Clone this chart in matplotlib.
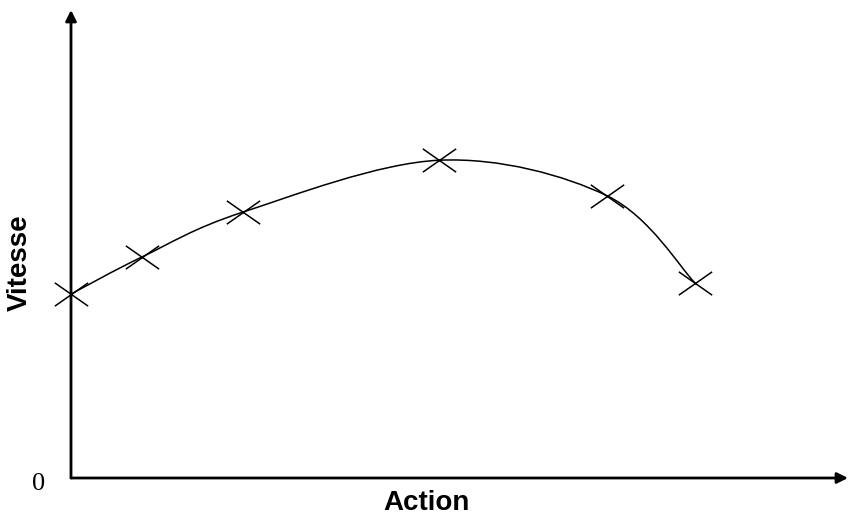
import matplotlib
matplotlib.use('Agg')
import matplotlib.pyplot as plt
from matplotlib.path import Path
from matplotlib.patches import PathPatch

# values (arbitrary units, 0..10 on both axes)
action = [0.0, 0.91, 2.21, 4.74, 6.90, 8.03]
vitesse = [3.93, 4.72, 5.68, 6.79, 6.03, 4.17]

FIG_W, FIG_H = 849, 516
X0, Y0 = 71, 478     # origin, pixels
X1, Y1 = 848, 10     # arrow tips, pixels

# the crosses in the reference are wider than tall
CROSS = Path([(-1, -0.7), (1, 0.7), (-1, 0.7), (1, -0.7)],
             [Path.MOVETO, Path.LINETO, Path.MOVETO, Path.LINETO])


def smooth_path(xs, ys):
    """Catmull-Rom through the points, as cubic Bezier segments."""
    pts = list(zip(xs, ys))
    verts = [pts[0]]
    codes = [Path.MOVETO]
    n = len(pts)
    for i in range(n - 1):
        p0 = pts[i - 1] if i > 0 else pts[i]
        p1 = pts[i]
        p2 = pts[i + 1]
        p3 = pts[i + 2] if i + 2 < n else pts[i + 1]
        c1 = (p1[0] + (p2[0] - p0[0]) / 6, p1[1] + (p2[1] - p0[1]) / 6)
        c2 = (p2[0] - (p3[0] - p1[0]) / 6, p2[1] - (p3[1] - p1[1]) / 6)
        verts += [c1, c2, p2]
        codes += [Path.CURVE4] * 3
    return Path(verts, codes)


fig = plt.figure(figsize=(FIG_W / 100, FIG_H / 100), dpi=100)
ax = fig.add_axes([X0 / FIG_W, (FIG_H - Y0) / FIG_H,
                   (X1 - X0) / FIG_W, (Y0 - Y1) / FIG_H])
ax.set_xlim(0, 10)
ax.set_ylim(0, 10)
for s in ax.spines.values():
    s.set_visible(False)
ax.set_xticks([])
ax.set_yticks([])

ax.add_patch(PathPatch(smooth_path(action, vitesse), fill=False,
                       edgecolor='black', lw=1.1, clip_on=False))
ax.plot(action, vitesse, linestyle='none', marker=CROSS, markersize=24,
        markeredgewidth=1.1, color='black', clip_on=False)

arrow = dict(arrowstyle='-|>', color='black', lw=2.0, mutation_scale=16,
             shrinkA=0, shrinkB=0)
ax.annotate('', xy=(1, 0), xytext=(0, 0), xycoords='axes fraction',
            textcoords='axes fraction', arrowprops=arrow)
ax.annotate('', xy=(0, 1), xytext=(0, 0), xycoords='axes fraction',
            textcoords='axes fraction', arrowprops=arrow)

fig.text(39 / FIG_W, 1 - 484 / FIG_H, '0', family='Liberation Serif',
         fontsize=19, ha='center', va='center')
fig.text(427 / FIG_W, 1 - 503 / FIG_H, 'Action', family='Liberation Sans',
         fontweight='bold', fontsize=20, ha='center', va='center')
fig.text(20 / FIG_W, 1 - 263 / FIG_H, 'Vitesse', family='Liberation Sans',
         fontweight='bold', fontsize=20, ha='center', va='center',
         rotation=90)

fig.savefig('out.png', dpi=100)
